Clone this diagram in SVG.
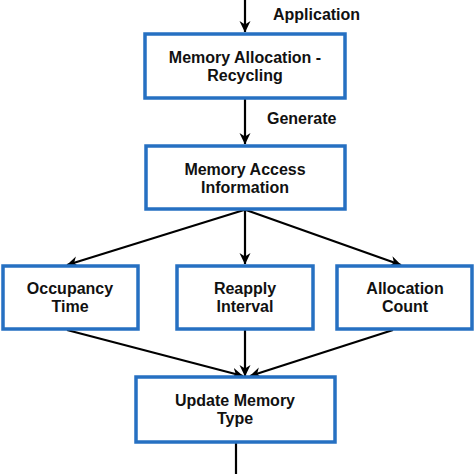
<svg xmlns="http://www.w3.org/2000/svg" width="474" height="474" viewBox="0 0 474 474">
<style>
.box{fill:#ffffff;stroke:#2670c2;stroke-width:3.5}
.t{font-family:"Liberation Sans",Arial,sans-serif;font-weight:bold;font-size:16px;fill:#111;text-anchor:middle}
.l{font-family:"Liberation Sans",Arial,sans-serif;font-weight:bold;font-size:16px;fill:#111;text-anchor:start}
.c{stroke:#000;stroke-width:2.2;fill:none}
</style>
<defs>
<marker id="ah" viewBox="0 0 12 12" refX="11" refY="6" markerWidth="12" markerHeight="12" markerUnits="userSpaceOnUse" orient="auto">
<path d="M0,0.5 L11.5,6 L0,11.5 L3.5,6 z" fill="#000"/>
</marker>
</defs>
<rect width="474" height="474" fill="#ffffff"/>
<g id="connectors">
<line class="c" x1="245" y1="0" x2="245" y2="32" marker-end="url(#ah)"/>
<text class="l" x="273" y="20">Application</text>
<line class="c" x1="245" y1="99" x2="245" y2="144" marker-end="url(#ah)"/>
<text class="l" x="267" y="124">Generate</text>
<line class="c" x1="244" y1="210" x2="67" y2="265" marker-end="url(#ah)"/>
<line class="c" x1="245" y1="210" x2="245" y2="264" marker-end="url(#ah)"/>
<line class="c" x1="246" y1="210" x2="401" y2="265" marker-end="url(#ah)"/>
<line class="c" x1="67" y1="330" x2="243" y2="376" marker-end="url(#ah)"/>
<line class="c" x1="245" y1="330" x2="245" y2="376" marker-end="url(#ah)"/>
<line class="c" x1="393" y1="330" x2="250" y2="376" marker-end="url(#ah)"/>
<line class="c" x1="236" y1="443" x2="236" y2="474"/>
</g>
<g id="node-alloc">
<rect class="box" x="145" y="34" width="200" height="64"/>
<text class="t" x="245" y="63">Memory Allocation -</text>
<text class="t" x="245" y="81">Recycling</text>
</g>
<g id="node-access">
<rect class="box" x="146" y="146" width="199" height="63"/>
<text class="t" x="245" y="175">Memory Access</text>
<text class="t" x="245" y="193">Information</text>
</g>
<g id="node-occupancy">
<rect class="box" x="3" y="266" width="135" height="63"/>
<text class="t" x="70" y="294">Occupancy</text>
<text class="t" x="70" y="312">Time</text>
</g>
<g id="node-reapply">
<rect class="box" x="177" y="266" width="136" height="63"/>
<text class="t" x="245" y="294">Reapply</text>
<text class="t" x="245" y="312">Interval</text>
</g>
<g id="node-count">
<rect class="box" x="337" y="266" width="135" height="63"/>
<text class="t" x="405" y="294">Allocation</text>
<text class="t" x="405" y="312">Count</text>
</g>
<g id="node-update">
<rect class="box" x="136" y="377" width="199" height="65"/>
<text class="t" x="235" y="406">Update Memory</text>
<text class="t" x="235" y="424">Type</text>
</g>
</svg>
